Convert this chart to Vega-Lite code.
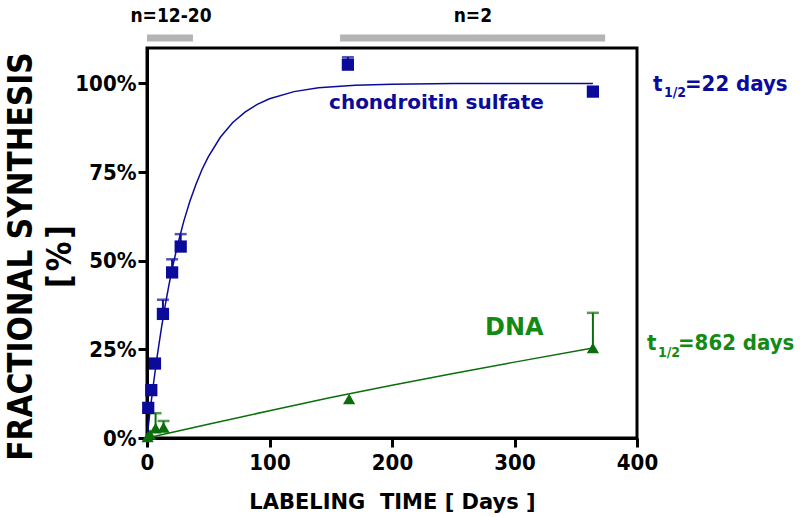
{
  "$schema": "https://vega.github.io/schema/vega-lite/v6.json",
  "width": 490,
  "height": 390,
  "autosize": {"type": "none"},
  "padding": {"left": 147, "top": 48, "right": 163, "bottom": 79},
  "background": "white",
  "config": {
    "view": {"stroke": "black", "strokeWidth": 3},
    "font": "DejaVu Sans"
  },
  "datasets": {
    "points": [
      {"series": "cs", "t": 1, "y": 8.5},
      {"series": "cs", "t": 3.5, "y": 13.5},
      {"series": "cs", "t": 6.5, "y": 21},
      {"series": "cs", "t": 13, "y": 35, "hi": 39},
      {"series": "cs", "t": 20.5, "y": 46.7, "hi": 50.4},
      {"series": "cs", "t": 27.5, "y": 54, "hi": 57.5},
      {"series": "cs", "t": 164, "y": 105.3, "hi": 107.4},
      {"series": "cs", "t": 364, "y": 97.7},
      {"series": "dna", "t": 0.5, "y": 0.3},
      {"series": "dna", "t": 2.5, "y": 1},
      {"series": "dna", "t": 7, "y": 2.8, "hi": 7},
      {"series": "dna", "t": 13.5, "y": 3, "hi": 4.8},
      {"series": "dna", "t": 165, "y": 11},
      {"series": "dna", "t": 364, "y": 25.4, "hi": 35.3}
    ],
    "fit": [
      {"series": "cs", "t": 0, "y": 0},
      {"series": "cs", "t": 2, "y": 6.1},
      {"series": "cs", "t": 4, "y": 11.8},
      {"series": "cs", "t": 6, "y": 17.2},
      {"series": "cs", "t": 8, "y": 22.3},
      {"series": "cs", "t": 10, "y": 27.0},
      {"series": "cs", "t": 12, "y": 31.5},
      {"series": "cs", "t": 15, "y": 37.7},
      {"series": "cs", "t": 18, "y": 43.3},
      {"series": "cs", "t": 21, "y": 48.4},
      {"series": "cs", "t": 25, "y": 54.5},
      {"series": "cs", "t": 30, "y": 61.1},
      {"series": "cs", "t": 35, "y": 66.8},
      {"series": "cs", "t": 40, "y": 71.6},
      {"series": "cs", "t": 45, "y": 75.8},
      {"series": "cs", "t": 50, "y": 79.3},
      {"series": "cs", "t": 60, "y": 84.9},
      {"series": "cs", "t": 70, "y": 89.0},
      {"series": "cs", "t": 80, "y": 91.9},
      {"series": "cs", "t": 90, "y": 94.1},
      {"series": "cs", "t": 100, "y": 95.7},
      {"series": "cs", "t": 120, "y": 97.7},
      {"series": "cs", "t": 140, "y": 98.8},
      {"series": "cs", "t": 170, "y": 99.5},
      {"series": "cs", "t": 200, "y": 99.8},
      {"series": "cs", "t": 250, "y": 99.96},
      {"series": "cs", "t": 300, "y": 100},
      {"series": "cs", "t": 364, "y": 100},
      {"series": "dna", "t": 0, "y": 0},
      {"series": "dna", "t": 50, "y": 3.9},
      {"series": "dna", "t": 100, "y": 7.7},
      {"series": "dna", "t": 150, "y": 11.4},
      {"series": "dna", "t": 200, "y": 14.9},
      {"series": "dna", "t": 250, "y": 18.2},
      {"series": "dna", "t": 300, "y": 21.4},
      {"series": "dna", "t": 364, "y": 25.4}
    ],
    "bars": [
      {"t": 0, "t2": 37.5, "y": 112.8, "series": "bar"},
      {"t": 157.6, "t2": 374, "y": 112.8, "series": "bar"}
    ],
    "barlabels": [
      {"t": 19.6, "y": 117.2, "text": "n=12-20", "series": "bar"},
      {"t": 266, "y": 117.2, "text": "n=2", "series": "bar"}
    ],
    "notes20": [
      {"t": 148.6, "y": 92.7, "text": "chondroitin sulfate", "series": "cs"}
    ],
    "notesT": [
      {"t": 413.1, "y": 98, "text": "t", "series": "cs"},
      {"t": 439.2, "y": 98, "text": "=22 days", "series": "cs"},
      {"t": 408.2, "y": 24.8, "text": "t", "series": "dnat"},
      {"t": 433.5, "y": 24.8, "text": "=862 days", "series": "dnat"}
    ],
    "notes13": [
      {"t": 422, "y": 96.1, "text": "1/2", "series": "cs"},
      {"t": 417.1, "y": 22.8, "text": "1/2", "series": "dnat"}
    ],
    "notes24": [
      {"t": 275.9, "y": 29, "text": "DNA", "series": "dnat"}
    ]
  },
  "encoding": {
    "x": {
      "field": "t",
      "type": "quantitative",
      "scale": {"domain": [0, 400], "nice": false, "zero": false},
      "axis": {
        "values": [0, 100, 200, 300, 400],
        "title": "LABELING\u00a0\u00a0TIME [ Days ]",
        "grid": false,
        "domainColor": "black",
        "domainWidth": 3,
        "tickColor": "black",
        "tickWidth": 3,
        "tickSize": 9,
        "labelFont": "DejaVu Sans Condensed",
        "labelFontWeight": "bold",
        "labelFontSize": 22,
        "labelColor": "black",
        "labelPadding": 5,
        "labelFlush": false,
        "labelOverlap": false,
        "titleFont": "DejaVu Sans",
        "titleFontWeight": "bold",
        "titleFontSize": 21,
        "titleColor": "black",
        "titleBaseline": "alphabetic",
        "titleY": 70
      }
    },
    "y": {
      "field": "y",
      "type": "quantitative",
      "scale": {"domain": [0, 110], "nice": false},
      "axis": {
        "values": [0, 25, 50, 75, 100],
        "labelExpr": "datum.value + '%'",
        "title": ["FRACTIONAL SYNTHESIS", "[\u200a%\u200a]"],
        "grid": false,
        "domainColor": "black",
        "domainWidth": 3,
        "tickColor": "black",
        "tickWidth": 3,
        "tickSize": 9,
        "labelFont": "DejaVu Sans Condensed",
        "labelFontWeight": "bold",
        "labelFontSize": 22,
        "labelColor": "black",
        "labelPadding": 2,
        "labelFlush": false,
        "labelOverlap": false,
        "titleFont": "DejaVu Sans Condensed",
        "titleFontWeight": "bold",
        "titleFontSize": 33,
        "titleColor": "black",
        "titleLineHeight": 39,
        "titleAngle": -90,
        "titleAlign": "center",
        "titleBaseline": "alphabetic",
        "titleX": -116,
        "titleY": 208
      }
    },
    "color": {
      "field": "series",
      "type": "nominal",
      "scale": {"domain": ["cs", "dna", "dnat", "bar"], "range": ["#0b0b9b", "#0a6e0a", "#138a13", "#b4b4b4"]},
      "legend": null
    }
  },
  "layer": [
    {
      "data": {"name": "bars"},
      "mark": {"type": "rule", "strokeWidth": 7},
      "encoding": {
        "x2": {"field": "t2"}
      }
    },
    {
      "data": {"name": "barlabels"},
      "mark": {"type": "text", "fontSize": 19, "fontWeight": "bold", "font": "DejaVu Sans Condensed", "align": "center", "baseline": "alphabetic", "color": "black"},
      "encoding": {
        "text": {"field": "text"},
        "color": {"value": "black"}
      }
    },
    {
      "data": {"name": "fit"},
      "mark": {"type": "line", "strokeWidth": 1.5},
      "encoding": {}
    },
    {
      "data": {"name": "points"},
      "transform": [{"filter": "isValid(datum.hi)"}],
      "mark": {"type": "rule", "strokeWidth": 2},
      "encoding": {
        "y2": {"field": "hi"}
      }
    },
    {
      "data": {"name": "points"},
      "transform": [{"filter": "isValid(datum.hi)"}],
      "mark": {"type": "tick", "orient": "horizontal", "size": 12, "thickness": 2.5},
      "encoding": {
        "y": {"field": "hi", "type": "quantitative"}
      }
    },
    {
      "data": {"name": "points"},
      "mark": {"type": "point", "filled": true, "opacity": 1, "size": 150},
      "encoding": {
        "shape": {"field": "series", "type": "nominal", "scale": {"domain": ["cs", "dna"], "range": ["square", "triangle-up"]}, "legend": null}
      }
    },
    {
      "data": {"name": "notes20"},
      "mark": {"type": "text", "fontSize": 20, "fontWeight": "bold", "font": "DejaVu Sans", "align": "left", "baseline": "alphabetic"},
      "encoding": {"text": {"field": "text"}}
    },
    {
      "data": {"name": "notesT"},
      "mark": {"type": "text", "fontSize": 22, "fontWeight": "bold", "font": "DejaVu Sans Condensed", "align": "left", "baseline": "alphabetic"},
      "encoding": {"text": {"field": "text"}}
    },
    {
      "data": {"name": "notes13"},
      "mark": {"type": "text", "fontSize": 14, "fontWeight": "bold", "font": "DejaVu Sans Condensed", "align": "left", "baseline": "alphabetic"},
      "encoding": {"text": {"field": "text"}}
    },
    {
      "data": {"name": "notes24"},
      "mark": {"type": "text", "fontSize": 24, "fontWeight": "bold", "font": "DejaVu Sans", "align": "left", "baseline": "alphabetic"},
      "encoding": {"text": {"field": "text"}}
    }
  ]
}
